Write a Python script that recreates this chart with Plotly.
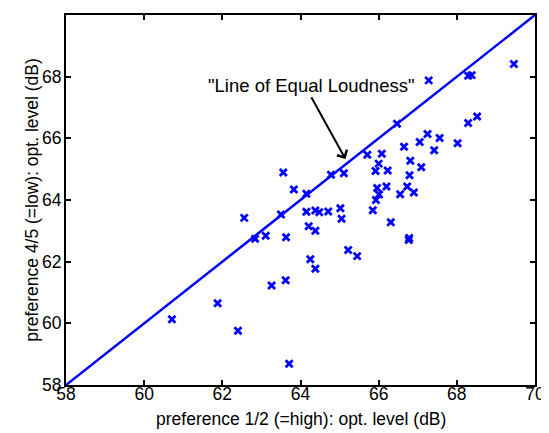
import plotly.graph_objects as go

pref_high = [69.46, 67.28, 68.29, 68.38, 66.47, 68.52, 68.29, 67.25, 67.56, 67.05,
             68.02, 66.65, 67.42, 65.71, 66.08, 66.81, 66.00, 67.09, 65.92, 66.23,
             65.11, 64.78, 63.56, 66.79, 66.73, 66.20, 65.96, 66.90, 66.55, 66.01,
             65.93, 63.83, 64.15, 64.15, 64.38, 64.48, 64.71, 65.02, 65.85, 63.50,
             62.56, 65.05, 66.31, 64.21, 64.38, 62.84, 63.11, 63.63, 66.78, 66.77,
             65.22, 65.45, 64.25, 64.38, 63.62, 63.26, 61.88, 60.71, 62.40, 63.71]
pref_low = [68.41, 67.88, 68.03, 68.05, 66.47, 66.71, 66.50, 66.14, 66.01, 65.88,
            65.84, 65.73, 65.61, 65.47, 65.50, 65.27, 65.18, 65.06, 64.94, 64.96,
            64.87, 64.82, 64.89, 64.80, 64.44, 64.44, 64.39, 64.24, 64.19, 64.18,
            64.00, 64.34, 64.20, 63.62, 63.66, 63.60, 63.63, 63.73, 63.67, 63.53,
            63.42, 63.39, 63.28, 63.15, 63.00, 62.74, 62.84, 62.79, 62.77, 62.70,
            62.38, 62.18, 62.08, 61.77, 61.40, 61.23, 60.65, 60.13, 59.76, 58.69]

equal_line = [58, 70]
tick_vals = [58, 60, 62, 64, 66, 68, 70]
label_text = '"Line of Equal Loudness"'
label_pos = (64.28, 67.71)
arrow_tail = (64.256, 67.38)
arrow_head = (65.152, 65.33)
x_title = "preference 1/2 (=high): opt. level (dB)"
y_title = "preference 4/5 (=low): opt. level (dB)"

font = dict(family="Liberation Sans, Arial, sans-serif", size=17.5, color="black")

fig = go.Figure()
fig.add_trace(go.Scatter(x=equal_line, y=equal_line, mode="lines",
                         line=dict(color="#0000FF", width=2.5), showlegend=False,
                         cliponaxis=False))
fig.add_trace(go.Scatter(x=pref_high, y=pref_low, mode="markers",
                         marker=dict(symbol="x-thin", size=7, color="#0000FF",
                                     line=dict(color="#0000FF", width=2.8)),
                         showlegend=False))

fig.add_annotation(x=label_pos[0], y=label_pos[1], xref="x", yref="y",
                   text=label_text, showarrow=False,
                   font=dict(family="Liberation Sans, Arial, sans-serif", size=18.5, color="black"))
fig.add_annotation(x=arrow_head[0], y=arrow_head[1], ax=arrow_tail[0], ay=arrow_tail[1],
                   xref="x", yref="y", axref="x", ayref="y", text="", showarrow=True,
                   arrowhead=4, arrowsize=1.1, arrowwidth=2, arrowcolor="black")

# axis titles
fig.add_annotation(x=0.5, y=-0.092, xref="paper", yref="paper", text=x_title,
                   showarrow=False, xanchor="center", yanchor="middle", font=font)
fig.add_annotation(x=-0.0731, y=0.5, xref="paper", yref="paper", text=y_title,
                   showarrow=False, xanchor="center", yanchor="middle", textangle=-90,
                   font=font)

axis_common = dict(range=[58, 70], tickvals=tick_vals, ticks="inside", ticklen=5,
                   tickwidth=2, tickcolor="black", showline=True, linecolor="black",
                   linewidth=2, mirror="ticks", showgrid=False, zeroline=False,
                   tickfont=font, automargin=False)

fig.update_xaxes(**axis_common, ticklabelstandoff=-8)
fig.update_yaxes(**axis_common, ticklabelstandoff=-1)

# the page body has an 8px margin, so the figure is sized to fit inside it
fig.update_layout(width=541, height=425, plot_bgcolor="white", paper_bgcolor="white",
                  margin=dict(l=58, r=14, t=7, b=48), font=font)

fig.write_html("out.html")
